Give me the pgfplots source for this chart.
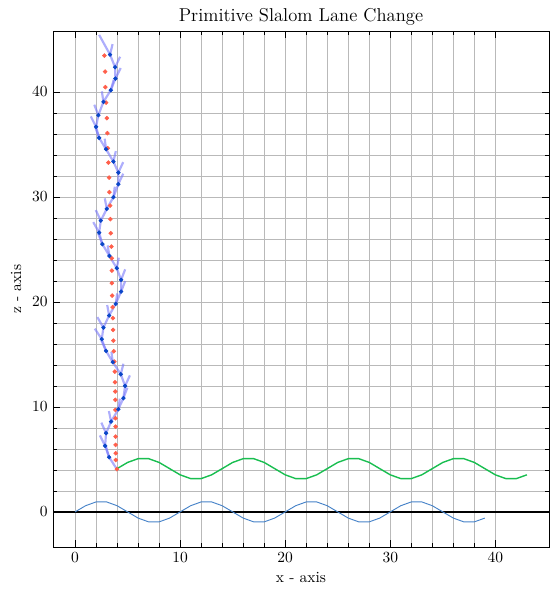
\documentclass[border=0pt]{standalone}
\usepackage{pgfplots}
\pgfplotsset{compat=1.18}
\definecolor{trajblue}{RGB}{120,120,250}
\definecolor{dotblue}{RGB}{10,70,200}
\definecolor{dotred}{RGB}{255,95,75}
\definecolor{wave}{RGB}{70,130,200}
\definecolor{lane}{RGB}{25,190,80}
\definecolor{gridgray}{RGB}{185,185,185}

% lateral oscillation of the vehicle around the lane (x, z, heading stub u, v)
\pgfplotstableread{
x y u v
3.24 5.21 -0.30 1.0
2.86 6.29 -0.50 1.0
2.95 7.50 -0.45 1.0
3.43 8.60 -0.21 1.0
4.12 9.78 0.14 1.0
4.60 10.83 0.38 1.0
4.76 12.00 0.46 1.0
4.35 13.11 0.25 1.0
3.59 14.26 -0.13 1.0
2.95 15.33 -0.45 1.0
2.54 16.45 -0.66 1.0
2.70 17.55 -0.58 1.0
3.24 18.70 -0.18 1.0
3.87 19.81 0.14 1.0
4.38 20.98 0.39 1.0
4.38 22.10 0.39 1.0
3.97 23.21 0.19 1.0
3.27 24.38 -0.17 1.0
2.60 25.50 -0.40 1.0
2.29 26.60 -0.56 1.0
2.45 27.74 -0.48 1.0
3.02 28.86 -0.19 1.0
3.65 29.97 0.13 1.0
4.12 31.21 0.46 1.0
4.12 32.31 0.46 1.0
3.65 33.36 0.23 1.0
2.95 34.54 -0.13 1.0
2.29 35.62 -0.36 1.0
2.00 36.67 -0.50 1.0
2.22 37.78 -0.39 1.0
2.70 39.05 -0.15 1.0
3.40 40.16 0.28 1.0
3.84 41.27 0.50 1.0
3.81 42.35 0.48 1.0
3.33 43.55 0.24 1.0
}\slalom

\pgfplotstableread{
x y
3.98 4.07
3.87 4.95
3.87 5.59
3.86 6.38
3.86 7.17
3.85 8.12
3.85 8.92
3.84 9.71
3.83 10.67
3.82 11.46
3.80 12.35
3.78 13.36
3.74 14.31
3.68 15.30
3.64 16.31
3.62 17.33
3.60 18.45
3.57 19.50
3.53 20.60
3.50 21.78
3.50 22.98
3.49 24.16
3.46 25.27
3.40 26.54
3.36 27.88
3.34 29.17
3.27 30.45
3.24 31.84
3.17 33.27
3.11 34.64
3.08 36.07
3.02 37.50
2.95 38.98
2.88 40.45
2.86 41.93
2.79 43.46
}\lanecenter

\pgfplotstableread{
x y
0 0
1 0.588
2 0.951
3 0.951
4 0.588
5 0
6 -0.588
7 -0.951
8 -0.951
9 -0.588
10 0
11 0.588
12 0.951
13 0.951
14 0.588
15 0
16 -0.588
17 -0.951
18 -0.951
19 -0.588
20 0
21 0.588
22 0.951
23 0.951
24 0.588
25 0
26 -0.588
27 -0.951
28 -0.951
29 -0.588
30 0
31 0.588
32 0.951
33 0.951
34 0.588
35 0
36 -0.588
37 -0.951
38 -0.951
39 -0.588
}\basewave

\pgfplotstableread{
x y
4 4.12
5 4.71
6 5.07
7 5.07
8 4.71
9 4.12
10 3.53
11 3.17
12 3.17
13 3.53
14 4.12
15 4.71
16 5.07
17 5.07
18 4.71
19 4.12
20 3.53
21 3.17
22 3.17
23 3.53
24 4.12
25 4.71
26 5.07
27 5.07
28 4.71
29 4.12
30 3.53
31 3.17
32 3.17
33 3.53
34 4.12
35 4.71
36 5.07
37 5.07
38 4.71
39 4.12
40 3.53
41 3.17
42 3.17
43 3.53
}\lanewave

\begin{document}
\begin{tikzpicture}
\path (-34.2pt,-27.7pt) rectangle (322pt,353pt);
\begin{axis}[
    scale only axis,
    width=320pt, height=333pt,
    xmin=-2.1, xmax=45.1,
    ymin=-3.35, ymax=45.8,
    xtick={0,10,20,30,40},
    ytick={0,10,20,30,40},
    minor tick num=4,
    grid=both,
    major grid style={gridgray, line width=0.5pt},
    minor grid style={gridgray, line width=0.5pt},
    title={Primitive Slalom Lane Change},
    title style={font=\large, yshift=-6pt},
    xlabel={x - axis},
    ylabel={z - axis},
    xlabel style={yshift=0.5pt},
    axis line style={line width=0.55pt},
    every tick/.style={black, line width=0.5pt},
]

% zero line
\addplot[black, line width=0.9pt] coordinates {(-2.1,0) (45.1,0)};

\addplot[wave, line width=0.6pt] table {\basewave};
\addplot[lane, line width=0.9pt] table {\lanewave};

% planned lane centre
\addplot[only marks, mark=*, mark size=1.25pt, dotred, draw=none] table {\lanecenter};

% vehicle trajectory
\addplot[trajblue, opacity=0.6, line width=1.4pt] coordinates {
(3.98,4.07) (3.24,5.21) (2.86,6.29) (2.95,7.50) (3.43,8.60) (4.12,9.78)
(4.60,10.83) (4.76,12.00) (4.35,13.11) (3.59,14.26) (2.95,15.33) (2.54,16.45)
(2.70,17.55) (3.24,18.70) (3.87,19.81) (4.38,20.98) (4.38,22.10) (3.97,23.21)
(3.27,24.38) (2.60,25.50) (2.29,26.60) (2.45,27.74) (3.02,28.86) (3.65,29.97)
(4.12,31.21) (4.12,32.31) (3.65,33.36) (2.95,34.54) (2.29,35.62) (2.00,36.67)
(2.22,37.78) (2.70,39.05) (3.40,40.16) (3.84,41.27) (3.81,42.35) (3.33,43.55)
(2.29,45.43)};
\addplot[trajblue, opacity=0.6, line width=1.4pt,
    quiver={u=\thisrow{u}, v=\thisrow{v}}, -] table {\slalom};
\addplot[only marks, mark=*, mark size=1.2pt, dotblue, draw=none] table {\slalom};

\end{axis}
\end{tikzpicture}
\end{document}
